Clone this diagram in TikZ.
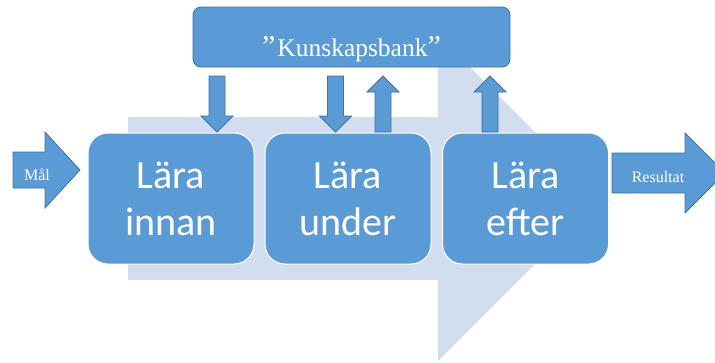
\documentclass[tikz,border=0pt]{standalone}
\usepackage{fontspec}
\newfontfamily\carl{Carlito}
\newfontfamily\tnr{Liberation Serif}
\definecolor{mainblue}{RGB}{91,155,213}
\definecolor{edgeblue}{RGB}{65,113,156}
\definecolor{paleblue}{RGB}{210,222,239}
\newcommand{\bigq}{{\fontsize{30}{30}\selectfont ”}}
\begin{document}
\begin{tikzpicture}[x=1pt,y=-1pt,
  blk/.style={fill=mainblue,draw=edgeblue,line width=0.8pt,line join=miter},
  lbox/.style={fill=mainblue,draw=white,line width=1pt,rounded corners=20pt,
    minimum width=166pt,minimum height=131pt,align=center,text=white,
    font=\carl\fontsize{40}{47}\selectfont,inner sep=0pt},
  kbox/.style={fill=mainblue,draw=edgeblue,line width=0.8pt,rounded corners=8pt,
    minimum width=317pt,minimum height=60pt,inner sep=0pt},
  kbtext/.style={text=white,font=\tnr\fontsize{25.5}{30}\selectfont,inner sep=0pt,anchor=base},
  smalltxt/.style={text=white,font=\tnr\fontsize{16}{19}\selectfont,inner sep=0pt,anchor=base},
  downarr/.pic={\path[blk] (-8,0) -- (8,0) -- (8,40) -- (16,40) -- (0,56) -- (-16,40) -- (-8,40) -- cycle;},
  uparr/.pic={\path[blk] (0,0) -- (16,16) -- (8,16) -- (8,56) -- (-8,56) -- (-8,16) -- (-16,16) -- cycle;}
]
\useasboundingbox (0,0) rectangle (715,362);
\clip (0,0) rectangle (715,362);
% background process arrow
\fill[paleblue] (128,117) -- (438,117) -- (438,35) -- (601,198) -- (438,361) -- (438,280) -- (128,280) -- cycle;
% knowledge bank
\node[kbox] (kb) at (351.5,37) {};
\node[kbtext] (kblabel) at (351.5,56) {\bigq\kern2pt Kunskapsbank\bigq};
% learning boxes
\node[lbox] (b1) at (171,198.5) {Lära\\innan};
\node[lbox] (b2) at (348,198.5) {Lära\\under};
\node[lbox] (b3) at (525.5,198.5) {Lära\\efter};
% vertical block arrows
\pic at (217,76) {downarr};
\pic at (335.5,76) {downarr};
\pic at (383,76) {uparr};
\pic at (490,76) {uparr};
% input arrow
\draw[blk] (13,152) -- (45,152) -- (45,132) -- (80,170) -- (45,208) -- (45,188) -- (13,188) -- cycle;
\node[smalltxt] (mal) at (37,180) {Mål};
% output arrow
\draw[blk] (612,153) -- (685,153) -- (685,133) -- (725,173) -- (685,213) -- (685,193) -- (612,193) -- cycle;
\node[smalltxt] (res) at (658,182) {Resultat};
\end{tikzpicture}
\end{document}
